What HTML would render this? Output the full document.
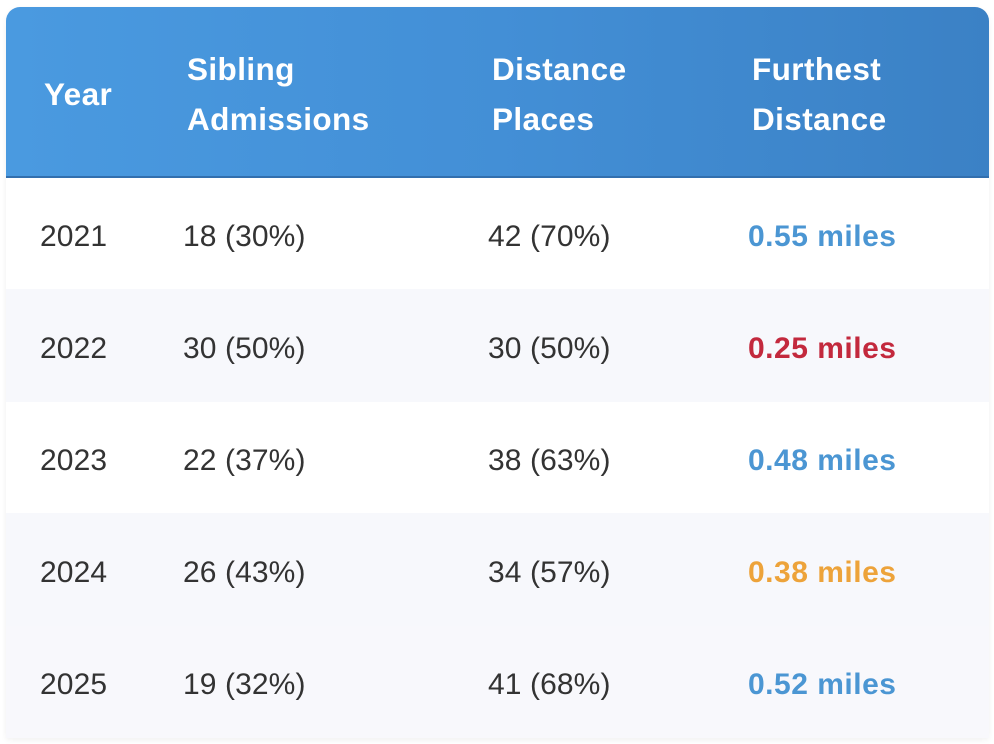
<!DOCTYPE html>
<html><head><meta charset="utf-8">
<style>
html,body{margin:0;padding:0;background:#fff;width:994px;height:744px;overflow:hidden;}
body{font-family:"Liberation Sans",Arial,sans-serif;}
.tbl{position:absolute;left:6px;top:7px;width:983px;height:731px;border-radius:14px 14px 0 0;overflow:hidden;box-shadow:0 2px 6px rgba(0,0,0,0.06);}
.hdr{position:absolute;left:0;top:0;width:983px;height:171px;background:linear-gradient(90deg,#4a9ae0 0%,#438fd6 50%,#3b81c5 100%);border-bottom:2px solid #326fae;box-sizing:border-box;}
.h{position:absolute;color:#fff;font-weight:bold;font-size:31.5px;line-height:50px;letter-spacing:0.4px;top:50%;transform:translateY(calc(-50% + 2px));}
.row{position:absolute;left:0;width:983px;}
.c{position:absolute;top:50%;transform:translateY(calc(-50% + 3px));font-size:30px;letter-spacing:0.1px;color:#333;line-height:36px;}
.m{font-weight:bold;font-size:30px;letter-spacing:0.5px;}
.b{color:#4b96d3;}.r{color:#c3293d;}.o{color:#eda33a;}
</style></head><body>
<div class="tbl">
 <div class="hdr">
  <div class="h" style="left:38px;">Year</div>
  <div class="h" style="left:181px;">Sibling<br>Admissions</div>
  <div class="h" style="left:486px;">Distance<br>Places</div>
  <div class="h" style="left:746px;">Furthest<br>Distance</div>
 </div>
 <div class="row" style="top:171px;height:111px;background:#fff;">
  <div class="c" style="left:34px;">2021</div><div class="c" style="left:177px;">18 (30%)</div><div class="c" style="left:482px;">42 (70%)</div><div class="c m b" style="left:742px;">0.55 miles</div>
 </div>
 <div class="row" style="top:282px;height:113px;background:#f7f8fc;">
  <div class="c" style="left:34px;">2022</div><div class="c" style="left:177px;">30 (50%)</div><div class="c" style="left:482px;">30 (50%)</div><div class="c m r" style="left:742px;">0.25 miles</div>
 </div>
 <div class="row" style="top:395px;height:111px;background:#fff;">
  <div class="c" style="left:34px;">2023</div><div class="c" style="left:177px;">22 (37%)</div><div class="c" style="left:482px;">38 (63%)</div><div class="c m b" style="left:742px;">0.48 miles</div>
 </div>
 <div class="row" style="top:506px;height:113px;background:#f7f8fc;">
  <div class="c" style="left:34px;">2024</div><div class="c" style="left:177px;">26 (43%)</div><div class="c" style="left:482px;">34 (57%)</div><div class="c m o" style="left:742px;">0.38 miles</div>
 </div>
 <div class="row" style="top:619px;height:112px;background:#f8f8fc;">
  <div class="c" style="left:34px;">2025</div><div class="c" style="left:177px;">19 (32%)</div><div class="c" style="left:482px;">41 (68%)</div><div class="c m b" style="left:742px;">0.52 miles</div>
 </div>
</div>
</body></html>
